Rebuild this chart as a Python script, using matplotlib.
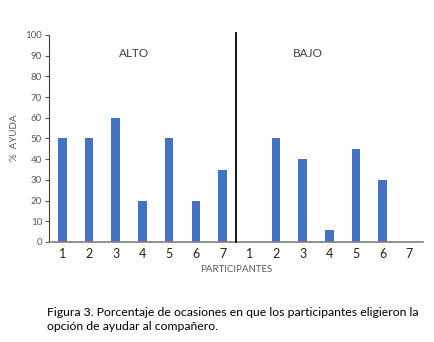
import matplotlib
matplotlib.use("Agg")
import matplotlib.pyplot as plt

plt.rcParams['font.family'] = ['Lato', 'DejaVu Sans']

alto_labels = ["1", "2", "3", "4", "5", "6", "7"]
bajo_labels = ["1", "2", "3", "4", "5", "6", "7"]
alto_values = [50, 50, 60, 20, 50, 20, 35]
bajo_values = [0, 50, 40, 6, 45, 30, 0]

labels = alto_labels + bajo_labels
values = alto_values + bajo_values
x = list(range(len(values)))

fig = plt.figure(figsize=(4.35, 3.42), dpi=100)
ax = fig.add_axes([0.1126, 0.2924, 0.8594, 0.6053])
ax.bar(x, values, width=0.32, color="#4472C4", zorder=2)
ax.set_xlim(-0.5, len(values) - 0.5)
ax.set_ylim(0, 100)
ax.set_yticks(range(0, 101, 10))
ax.set_xticks(x)
ax.set_xticklabels(labels, fontsize=9, color="#222222")
ax.tick_params(axis='x', length=0, pad=4)
ax.tick_params(axis='y', labelsize=7, colors="#595959", length=3, width=0.8, pad=2)
for s in ["top", "right"]:
    ax.spines[s].set_visible(False)
ax.spines["left"].set_color("#404040")
ax.spines["bottom"].set_color("#7f7f7f")
ax.spines["bottom"].set_linewidth(1.2)

ax.plot([6.5, 6.5], [0, 101], color="black", lw=1.3, clip_on=False, zorder=3)

ax.text(2.7, 91, "ALTO", fontsize=8.5, color="#404040", ha="center", va="center")
ax.text(9.2, 91, "BAJO", fontsize=8.5, color="#404040", ha="center", va="center")

fig.text(15/435, 1-138/342, "%  AYUDA", rotation=90, fontsize=7, color="#595959",
         ha="center", va="center")
fig.text(236/435, 1-270/342, "PARTICIPANTES", fontsize=7, color="#595959",
         ha="center", va="center")
fig.text(47/435, 1-312/342, "Figura 3. Porcentaje de ocasiones en que los participantes eligieron la",
         fontsize=8.8, color="black", ha="left", va="center")
fig.text(47/435, 1-327/342, "opción de ayudar al compañero.",
         fontsize=8.8, color="black", ha="left", va="center")

fig.savefig("out.png", dpi=100)
